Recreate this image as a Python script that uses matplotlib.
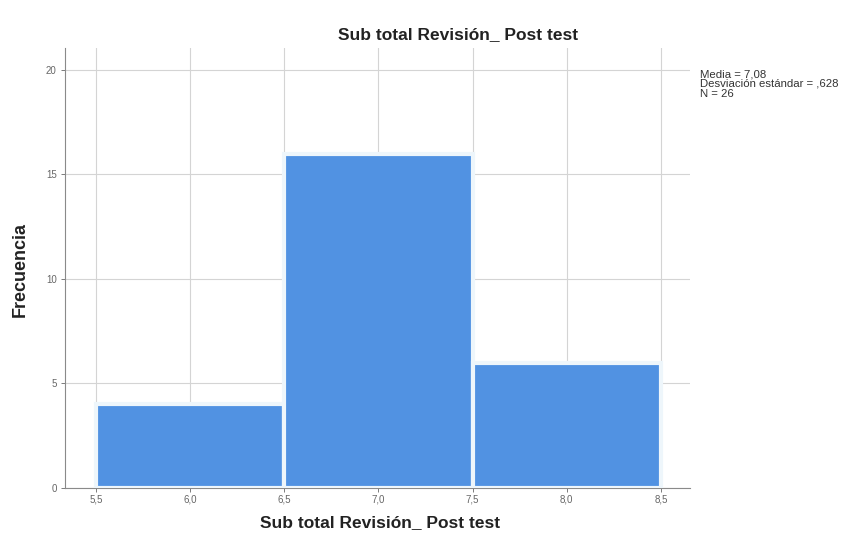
import matplotlib
matplotlib.use("Agg")
import matplotlib.pyplot as plt
from matplotlib.ticker import FuncFormatter

bin_edges = [5.5, 6.5, 7.5, 8.5]
counts = [4, 16, 6]
x_ticks = [5.5, 6.0, 6.5, 7.0, 7.5, 8.0, 8.5]
y_ticks = [0, 5, 10, 15, 20]
title = "Sub total Revisión_ Post test"
xlabel = "Sub total Revisión_ Post test"
ylabel = "Frecuencia"
stats_lines = ["Media = 7,08", "Desviación estándar = ,628", "N = 26"]

plt.rcParams['font.family'] = ['Arial', 'Liberation Sans', 'DejaVu Sans']

fig = plt.figure(figsize=(8.48, 5.45), dpi=100)
ax = fig.add_axes([0.0767, 0.1046, 0.737, 0.8073])

lefts = bin_edges[:-1]
widths = [b - a for a, b in zip(bin_edges[:-1], bin_edges[1:])]
ax.bar(lefts, counts, width=widths, align='edge', color='#5192e2',
       edgecolor='#eef6fb', linewidth=3, zorder=3)

ax.set_xlim(5.335, 8.655)
ax.set_ylim(0, 21.05)
ax.set_xticks(x_ticks)
ax.set_yticks(y_ticks)
ax.xaxis.set_major_formatter(FuncFormatter(lambda v, p: f"{v:.1f}".replace('.', ',')))
ax.yaxis.set_major_formatter(FuncFormatter(lambda v, p: f"{int(v)}"))
ax.tick_params(axis='both', labelsize=7, colors='#666666', length=3, width=0.6, pad=2)
ax.tick_params(axis='y', pad=3)
ax.grid(True, color='#d4d4d4', linewidth=0.8, zorder=0)
for s in ['top', 'right']:
    ax.spines[s].set_visible(False)
for s in ['left', 'bottom']:
    ax.spines[s].set_color('#8a8a8a')
    ax.spines[s].set_linewidth(0.8)

fig.text(0.54, 0.936, title, ha='center', va='center', fontsize=12.5, fontweight='bold', color='#222222')
fig.text(0.448, 0.042, xlabel, ha='center', va='center', fontsize=12.5, fontweight='bold', color='#222222')
fig.text(0.024, 0.505, ylabel, ha='center', va='center', rotation=90, fontsize=13, fontweight='bold', color='#222222')
fig.text(0.826, 0.846, "\n".join(stats_lines), ha='left', va='center', fontsize=8.2, color='#333333', linespacing=0.95)

fig.savefig("out.png", dpi=100)
